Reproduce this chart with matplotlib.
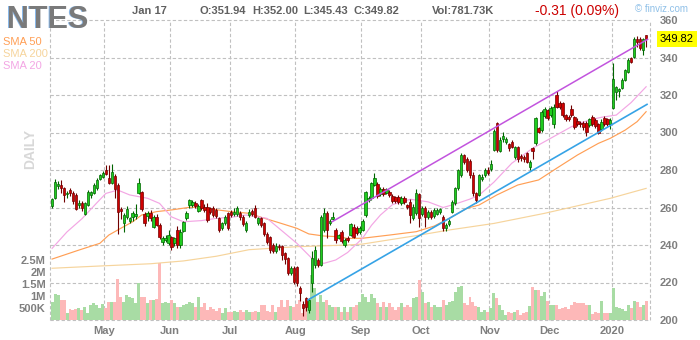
import matplotlib
matplotlib.use("Agg")
import matplotlib.pyplot as plt
import matplotlib.transforms as mtransforms

plt.rcParams['font.family'] = ['Liberation Sans', 'DejaVu Sans']

# daily candles, Apr 4 2019 .. Jan 17 2020 (index = trading day)
opens = [
    261, 265, 271.5, 272, 270.2, 267, 269.3, 268, 266.7, 261.3,
    262.2, 256.5, 261.3, 266.7, 267.6, 270.2, 275, 276.4, 280, 275.6,
    273, 277, 272, 259, 251.5, 255, 253, 254.8, 255.5, 267.9,
    268.4, 256.5, 255.5, 256.9, 249.8, 255, 250.7, 241.8, 242.5, 240.9,
    244.4, 240.9, 248, 240, 247.6, 254.2, 261.3, 261.3, 262.2, 258.3,
    264, 260.4, 260.4, 259.6, 259.6, 258.7, 254.2, 249, 251.6, 256.9,
    257.8, 256.5, 256.5, 257.2, 255.1, 248, 256, 258, 259.6, 251.6,
    254.2, 251.6, 245.8, 244.4, 240, 237, 239.5, 239.5, 235.5, 232.9,
    224.9, 227.5, 228.4, 216.9, 208.5, 211.6, 205.3, 219.5, 229.3, 232,
    229.3, 248, 256.9, 251.6, 254, 248, 244, 247, 240, 244,
    245.3, 249.8, 249, 247, 248, 256, 264.2, 264.9, 272, 272.4,
    267, 270, 268, 268.5, 266.1, 265.5, 265.5, 262.5, 265, 261.3,
    263.1, 254.2, 256.9, 267, 256.5, 260, 255.1, 257.5, 255.5, 256.8,
    257.5, 255.1, 249, 251, 257.8, 262.2, 270.2, 277.3, 288, 286,
    285, 277.3, 267.6, 266.7, 275, 277.3, 280, 280.4, 290.7, 304.9,
    290.3, 296.4, 295, 293.7, 295, 287.1, 292.1, 287.5, 287, 288.9,
    281.4, 291.6, 294.2, 302.2, 301.3, 309, 312, 309.3, 304.5, 320,
    315.5, 315.9, 309.3, 308.5, 312.4, 308.1, 306.4, 305.2, 305.2, 305.2,
    304, 308.5, 306.7, 304.5, 301.7, 308, 307, 304.5, 312.9, 321.8,
    322.3, 323.6, 328, 332.4, 339.6, 340.4, 349.7, 349.7, 344, 351.94,
]
closes = [
    264.4, 273.8, 272.7, 270.2, 266.7, 268, 267.6, 263.6, 259, 262.6,
    259.5, 262.6, 268.4, 268, 272, 274.7, 277.3, 278.6, 278, 273.2,
    279, 270, 257.8, 258, 256, 259, 254.2, 256.9, 256.5, 273.2,
    259, 251.5, 256.9, 254.2, 255, 250.7, 244.4, 243.5, 244, 245.3,
    238.8, 243.5, 240, 247.1, 252.4, 256.9, 264, 263, 260.8, 260.8,
    259.6, 258.7, 253.3, 257.8, 256, 255.5, 248, 251.6, 255.1, 248.9,
    256, 257.8, 259.6, 255.1, 251.2, 251.6, 257.8, 256.5, 255.1, 254.2,
    250.5, 245.8, 241.8, 237.3, 237, 239.5, 239, 234.7, 232.3, 225.2,
    227.5, 220.4, 219.5, 214.2, 206.2, 207.1, 210.7, 232.9, 237.3, 229.3,
    255.1, 256.9, 248, 252.8, 254.8, 242.7, 245.3, 242, 242.7, 242.5,
    251.2, 244.5, 246.5, 249, 253, 268.4, 265, 272.9, 275.9, 266.1,
    270, 267, 269.5, 266.5, 263.6, 263.6, 263, 265, 263, 260.1,
    256, 260.4, 267.6, 254.2, 260, 255, 257.8, 255, 258.5, 258.6,
    259, 248.9, 250.5, 253, 263.1, 270.2, 280, 288, 284.5, 280,
    277.5, 267.6, 264, 277.3, 276.5, 280, 278.5, 283.2, 301, 290.7,
    296, 298.1, 296.5, 291.5, 292.5, 292.1, 285.7, 286.5, 286, 284.4,
    284.4, 290.3, 307.6, 300.4, 311.1, 312.5, 307.6, 312.9, 313.8, 313.8,
    313.8, 309.3, 307, 307, 309.3, 303.1, 304.6, 304.5, 302.8, 300.4,
    307, 304.5, 303.5, 299.9, 305.8, 304.5, 304.5, 306.7, 328.3, 324.1,
    323.2, 328, 333.3, 338.7, 337.8, 349.7, 348, 344.9, 349.7, 349.82,
]
highs = [
    265.2, 275, 274, 274.7, 271, 269, 270.4, 269, 267.5, 264,
    263.5, 263, 269.5, 269, 273, 275.5, 278, 279.5, 282.5, 282.7,
    283, 278, 273, 260.5, 257, 261, 255, 258, 262, 275.5,
    269, 257.5, 258, 258.5, 256, 256.5, 251.5, 245, 245.5, 248,
    245, 244.5, 250, 248.5, 253, 258, 264.5, 264, 263.5, 262,
    264.5, 262, 262.5, 260.5, 261, 259.5, 255, 252.5, 256, 257.5,
    258.5, 259.5, 261, 258, 256, 253, 259, 259, 261.5, 255,
    255, 252.5, 247, 245, 241, 241, 240.5, 240, 236.5, 233.5,
    229, 229, 229, 218, 210, 212.5, 211.5, 237, 239.5, 233,
    256, 259.5, 258, 254, 257.5, 249, 246, 248, 243.5, 245,
    252, 251, 250, 250, 254, 269, 266, 273.5, 278.5, 273.5,
    271, 271, 270.5, 269.5, 267, 266, 266.5, 266, 266, 262,
    264.5, 262, 270, 268, 261, 261, 258.5, 258.5, 259.5, 259.5,
    259.8, 255.8, 251.5, 254, 264, 271, 280.8, 289, 288.5, 287,
    286, 279, 268.5, 278, 278, 281, 281.5, 285.5, 302, 305.5,
    297.5, 300.5, 297.5, 294.5, 296, 293, 293, 288.5, 288, 289.5,
    285.5, 292.5, 308.5, 303, 312, 313.5, 312.8, 314, 315, 322,
    317, 316.5, 310, 309.5, 314.5, 309, 307.5, 306, 306, 306,
    308, 309.5, 307.5, 305.2, 307, 309, 307.8, 307.5, 337.2, 325,
    324, 329, 334, 339.5, 340.5, 351, 351.5, 351, 350.5, 352,
]
lows = [
    260, 264.5, 270, 267.9, 263.1, 265, 266, 262, 258.5, 259.5,
    258, 256, 261, 265, 267, 269.5, 274.5, 276, 277.5, 272.5,
    272.5, 265, 246, 254, 247, 254, 251.5, 253, 254, 267,
    258, 250, 253, 253, 249, 250, 243, 240, 241.5, 240,
    237.5, 239.5, 238.5, 238.5, 247, 253.5, 260, 260.5, 259.5, 257.5,
    258.5, 257.5, 252.5, 256.5, 255, 254.5, 247, 248, 250.5, 248,
    255, 255.5, 255.5, 253.5, 250, 247, 255, 255.5, 254.5, 250.5,
    249.5, 245, 240.5, 236, 236, 236, 237.5, 232, 230, 224,
    224, 219, 218, 210, 202, 205, 204, 215, 228, 228.5,
    229, 247, 244, 250.5, 253.5, 241, 243, 241, 239, 241.5,
    245, 244, 245.5, 246, 247.5, 255, 263, 264, 271.5, 265,
    266, 266, 267, 265.5, 262.5, 262.5, 262, 261.5, 262, 259,
    252, 253.5, 256, 249.5, 255.5, 249.5, 254, 254, 254.5, 256,
    256.5, 247.5, 247.5, 250, 257, 261.5, 269.5, 276.5, 283, 279,
    276, 266, 262.5, 266, 274, 276.5, 277.5, 279.5, 290, 289.5,
    289.5, 295, 294, 290, 291.5, 286, 284.5, 285, 284.5, 283.5,
    280, 286, 293.5, 299.5, 300.5, 308, 306.5, 308.5, 302.5, 313,
    312.5, 308.5, 306, 306, 308.5, 302, 303.5, 303, 301.5, 298,
    303, 303.5, 302.5, 299, 301, 303.5, 303.5, 302, 312.5, 317.5,
    318.8, 323, 327.5, 332, 337, 340, 345.5, 344, 341.3, 345.43,
]
volume_m = [
    0.76, 1.10, 1.04, 0.83, 0.83, 0.28, 0.44, 0.42, 0.44, 0.49,
    0.42, 0.56, 0.31, 0.63, 0.69, 0.63, 0.49, 0.67, 0.49, 0.76,
    0.76, 0.76, 1.70, 0.97, 0.76, 1.04, 0.97, 0.90, 0.69, 1.53,
    0.97, 0.94, 0.69, 0.83, 0.83, 0.86, 2.36, 0.72, 0.76, 0.69,
    0.83, 0.69, 0.56, 0.56, 0.63, 0.67, 0.76, 0.69, 0.53, 0.97,
    0.56, 0.69, 0.42, 0.56, 0.44, 0.39, 0.49, 0.28, 0.49, 0.35,
    0.35, 0.39, 0.35, 0.42, 0.35, 0.42, 0.35, 0.35, 0.39, 0.35,
    0.63, 0.63, 0.39, 0.35, 0.63, 0.35, 0.56, 0.83, 0.56, 0.83,
    0.58, 0.56, 0.67, 0.83, 0.28, 0.67, 0.76, 1.88, 1.32, 0.76,
    1.04, 0.76, 0.83, 0.63, 0.56, 0.56, 0.56, 0.35, 0.56, 0.35,
    0.56, 0.56, 0.63, 0.76, 1.10, 0.97, 0.76, 1.10, 0.90, 0.69,
    0.56, 0.76, 0.56, 0.69, 0.56, 0.42, 0.56, 0.69, 0.56, 0.63,
    0.56, 0.90, 0.97, 1.67, 1.18, 0.69, 0.76, 0.56, 0.63, 0.56,
    0.56, 0.83, 0.63, 0.76, 0.80, 1.18, 1.39, 1.42, 0.69, 0.63,
    0.94, 0.76, 0.58, 0.56, 0.35, 0.42, 0.35, 0.49, 1.11, 0.90,
    0.63, 0.42, 0.21, 0.35, 0.28, 0.35, 0.42, 0.21, 0.28, 0.35,
    0.58, 1.39, 1.25, 1.25, 1.00, 1.18, 0.80, 0.63, 0.63, 0.63,
    0.44, 0.49, 0.56, 0.44, 0.63, 0.76, 0.72, 0.72, 0.69, 0.63,
    0.63, 0.25, 0.35, 0.28, 0.80, 0.31, 0.31, 0.31, 1.32, 0.56,
    0.49, 0.44, 0.39, 0.63, 0.49, 0.80, 0.76, 0.56, 0.63, 0.78,
]

month_starts = [18, 40, 60, 82, 104, 124, 147, 167, 188]
month_labels = ['May', 'Jun', 'Jul', 'Aug', 'Sep', 'Oct', 'Nov', 'Dec', '2020']

# moving averages at these trading days
sma20_idx = [0, 5, 10, 15, 18, 22, 26, 32, 36, 40, 44, 50, 55, 61, 65, 72, 76, 82, 87, 91,
             95, 99, 104, 107, 110, 114, 120, 126, 131, 135, 140, 143, 148, 154, 161, 167,
             174, 180, 184, 189, 194, 199]
sma20 = [238.2, 247, 254, 262.5, 267.5, 269.3, 266.7, 264.9, 262.2, 255, 252.4, 253, 254.2,
         255, 256, 254.2, 248.9, 240.9, 232.9, 230.2, 232, 236, 243.6, 250.5, 256, 261.5,
         264.4, 263, 260, 261.8, 264.5, 266.5, 273.5, 283.6, 291.6, 296.9, 303.1, 306.7,
         308.1, 309.3, 316, 324.4]
sma50_idx = [0, 9, 16, 19, 23, 27, 30, 35, 40, 46, 49, 54, 60, 66, 70, 76, 82, 86, 91, 96,
             99, 104, 113, 122, 128, 133, 139, 143, 149, 156, 163, 169, 176, 183, 187, 192,
             196, 199]
sma50 = [232.5, 237.3, 240.9, 245.3, 248.9, 252.4, 256, 257.8, 258.7, 260.1, 260.1, 259,
         257.8, 256.9, 254.8, 251.9, 248.9, 245.9, 244.8, 244.4, 243.5, 243.6, 245.3, 247.1,
         250.1, 254.2, 259.6, 261.3, 266.7, 272, 274.7, 280.9, 288, 294.2, 296.9, 301.3,
         305.8, 311.1]
sma200_idx = [0, 16, 33, 44, 55, 66, 82, 99, 104, 122, 133, 148, 165, 187, 199]
sma200 = [227.6, 228.8, 230, 231.5, 234, 237.5, 239.1, 240, 240.5, 245, 248, 251.5,
          256.9, 264.9, 270.2]

# drawn trend lines (channel)
upper_x = [93.8, 199.5]
upper_y = [252.4, 349.7]
lower_x = [85.7, 199.3]
lower_y = [210.7, 315.0]

price_ticks = [200, 220, 240, 260, 280, 300, 320, 340, 360]
vol_ticks = [0.5, 1, 1.5, 2, 2.5]
vol_labels = ['500K', '1M', '1.5M', '2M', '2.5M']

n = len(closes)
x = list(range(n))
up = [c >= o for o, c in zip(opens, closes)]

fig = plt.figure(figsize=(7, 3.4), dpi=100)
rect = [50 / 700, 20 / 340, 600 / 700, 300 / 340]
axv = fig.add_axes(rect)
ax = fig.add_axes(rect, sharex=axv)
axv.set_zorder(0)
ax.set_zorder(1)
ax.patch.set_visible(False)

grid_kw = dict(color='#c0c0c0', linewidth=0.8, linestyle=(0, (3, 2)))
xmin, xmax = -0.7, 200.3

# grid (drawn in the volume axes so it stays behind everything)
for p in price_ticks:
    f = (p - 200) / 160
    axv.plot([0, 1], [f, f], transform=axv.transAxes, zorder=0, clip_on=False, **grid_kw)
for xv in [xmin, xmax] + [m - 0.5 for m in month_starts]:
    axv.plot([xv, xv], [0, 1], transform=axv.get_xaxis_transform(), zorder=0,
             clip_on=False, **grid_kw)

# volume
vcol = ['#a8dca4' if u else '#fdb8b8' for u in up]
axv.bar(x, volume_m, width=1.0, color=vcol, linewidth=0, zorder=1)
axv.set_ylim(0, 12.5)
axv.set_xlim(xmin, xmax)
axv.set_yticks(vol_ticks)
axv.set_yticklabels(vol_labels)
axv.set_xticks([m - 0.5 for m in month_starts])
axv.set_xticklabels(month_labels)
axv.tick_params(axis='both', length=0, labelsize=8, labelcolor='#7f7f7f')
axv.tick_params(axis='y', pad=3)
axv.tick_params(axis='x', pad=4)
for t in axv.get_yticklabels() + axv.get_xticklabels():
    t.set_fontweight('bold')
for s in axv.spines.values():
    s.set_visible(False)

# moving averages
ax.plot(sma200_idx, sma200, color='#f6d49c', linewidth=0.85, zorder=1)
ax.plot(sma50_idx, sma50, color='#ff9f55', linewidth=0.85, zorder=1)
ax.plot(sma20_idx, sma20, color='#f3a6e4', linewidth=0.85, zorder=1)

# candles
edge = ['#006400' if u else '#700000' for u in up]
fill = ['#1fcc1f' if u else '#d00000' for u in up]
ax.vlines(x, lows, highs, colors=edge, linewidth=0.8, zorder=2)
ax.bar(x, [c - o for o, c in zip(opens, closes)], bottom=opens, width=0.8,
       color=fill, edgecolor=edge, linewidth=0.5, zorder=3)

# trend lines
ax.plot(upper_x, upper_y, color='#c254de', linewidth=1.1, zorder=4)
ax.plot(lower_x, lower_y, color='#36a3e6', linewidth=1.2, zorder=4)

ax.set_ylim(200, 360)
ax.set_xlim(xmin, xmax)
ax.yaxis.tick_right()
ax.set_yticks(price_ticks)
ax.tick_params(axis='y', length=0, pad=7, labelsize=8, labelcolor='#7f7f7f')
ax.tick_params(axis='x', length=0, labelbottom=False)
for t in ax.get_yticklabels():
    t.set_fontweight('bold')
for s in ax.spines.values():
    s.set_visible(False)

# last price marker
trans = mtransforms.blended_transform_factory(ax.transAxes, ax.transData)
ax.text(1 + 10 / 600, closes[-1], '%.2f' % closes[-1], transform=trans, ha='left',
        va='center', fontsize=8, color='black', clip_on=False,
        bbox=dict(boxstyle='square,pad=0.25', fc='#ffff00', ec='none'))

# header
def fx(px):
    return px / 700

def fy(py):
    return 1 - py / 340

fig.text(fx(6), fy(28), 'NTES', fontsize=22, fontweight='bold', color='#8ab8e8')
fig.text(fx(7), fy(28), 'NTES', fontsize=22, fontweight='bold', color='#7a7a7a')
hdr = dict(fontsize=8, color='#606060', va='baseline', fontweight='bold')
fig.text(fx(132), fy(14), 'Jan 17', **hdr)
fig.text(fx(200), fy(14), 'O:351.94', **hdr)
fig.text(fx(252), fy(14), 'H:352.00', **hdr)
fig.text(fx(303), fy(14), 'L:345.43', **hdr)
fig.text(fx(353), fy(14), 'C:349.82', **hdr)
fig.text(fx(432), fy(14), 'Vol:781.73K', **hdr)
fig.text(fx(535), fy(15), '-0.31 (0.09%)', fontsize=10, color='#cc0000', va='baseline')
fig.text(fx(635), fy(12), '\u00a9 finviz.com', fontsize=7, color='#8fc0e8', va='baseline')

fig.text(fx(3), fy(42), 'SMA 50', fontsize=8, color='#ff9f55', va='center')
fig.text(fx(3), fy(54), 'SMA 200', fontsize=8, color='#f6d49c', va='center')
fig.text(fx(3), fy(66), 'SMA 20', fontsize=8, color='#f3a6e4', va='center')
fig.text(fx(30), fy(149), 'DAILY', fontsize=10, fontweight='bold', color='#d8d8d8',
         rotation=90, ha='center', va='center')

fig.savefig('out.png', dpi=100)
